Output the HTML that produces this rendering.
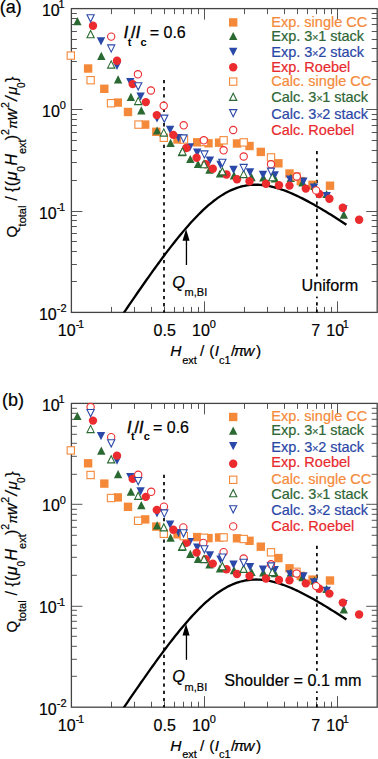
<!DOCTYPE html>
<html><head><meta charset="utf-8"><style>
html,body{margin:0;padding:0;background:#fff;width:378px;height:759px;overflow:hidden}
svg{display:block}
text{font-family:"Liberation Sans",sans-serif;stroke:#000;stroke-width:0.2px}
</style></head><body>
<svg width="378" height="759" viewBox="0 0 378 759">
<defs><clipPath id="clp"><rect x="71.4" y="8.6" width="305.79999999999995" height="303.79999999999995"/></clipPath></defs>
<rect width="378" height="759" fill="#fff"/>
<g><line x1="111.50" y1="312.40" x2="111.50" y2="306.90" stroke="#555" stroke-width="1"/>
<line x1="111.50" y1="8.60" x2="111.50" y2="14.10" stroke="#555" stroke-width="1"/>
<line x1="134.50" y1="312.40" x2="134.50" y2="306.90" stroke="#555" stroke-width="1"/>
<line x1="134.50" y1="8.60" x2="134.50" y2="14.10" stroke="#555" stroke-width="1"/>
<line x1="151.50" y1="312.40" x2="151.50" y2="306.90" stroke="#555" stroke-width="1"/>
<line x1="151.50" y1="8.60" x2="151.50" y2="14.10" stroke="#555" stroke-width="1"/>
<line x1="164.50" y1="312.40" x2="164.50" y2="306.90" stroke="#555" stroke-width="1"/>
<line x1="164.50" y1="8.60" x2="164.50" y2="14.10" stroke="#555" stroke-width="1"/>
<line x1="174.50" y1="312.40" x2="174.50" y2="306.90" stroke="#555" stroke-width="1"/>
<line x1="174.50" y1="8.60" x2="174.50" y2="14.10" stroke="#555" stroke-width="1"/>
<line x1="183.50" y1="312.40" x2="183.50" y2="306.90" stroke="#555" stroke-width="1"/>
<line x1="183.50" y1="8.60" x2="183.50" y2="14.10" stroke="#555" stroke-width="1"/>
<line x1="191.50" y1="312.40" x2="191.50" y2="306.90" stroke="#555" stroke-width="1"/>
<line x1="191.50" y1="8.60" x2="191.50" y2="14.10" stroke="#555" stroke-width="1"/>
<line x1="198.50" y1="312.40" x2="198.50" y2="306.90" stroke="#555" stroke-width="1"/>
<line x1="198.50" y1="8.60" x2="198.50" y2="14.10" stroke="#555" stroke-width="1"/>
<line x1="204.50" y1="312.40" x2="204.50" y2="301.40" stroke="#555" stroke-width="1"/>
<line x1="204.50" y1="8.60" x2="204.50" y2="19.60" stroke="#555" stroke-width="1"/>
<line x1="244.50" y1="312.40" x2="244.50" y2="306.90" stroke="#555" stroke-width="1"/>
<line x1="244.50" y1="8.60" x2="244.50" y2="14.10" stroke="#555" stroke-width="1"/>
<line x1="267.50" y1="312.40" x2="267.50" y2="306.90" stroke="#555" stroke-width="1"/>
<line x1="267.50" y1="8.60" x2="267.50" y2="14.10" stroke="#555" stroke-width="1"/>
<line x1="284.50" y1="312.40" x2="284.50" y2="306.90" stroke="#555" stroke-width="1"/>
<line x1="284.50" y1="8.60" x2="284.50" y2="14.10" stroke="#555" stroke-width="1"/>
<line x1="297.50" y1="312.40" x2="297.50" y2="306.90" stroke="#555" stroke-width="1"/>
<line x1="297.50" y1="8.60" x2="297.50" y2="14.10" stroke="#555" stroke-width="1"/>
<line x1="307.50" y1="312.40" x2="307.50" y2="306.90" stroke="#555" stroke-width="1"/>
<line x1="307.50" y1="8.60" x2="307.50" y2="14.10" stroke="#555" stroke-width="1"/>
<line x1="316.50" y1="312.40" x2="316.50" y2="306.90" stroke="#555" stroke-width="1"/>
<line x1="316.50" y1="8.60" x2="316.50" y2="14.10" stroke="#555" stroke-width="1"/>
<line x1="324.50" y1="312.40" x2="324.50" y2="306.90" stroke="#555" stroke-width="1"/>
<line x1="324.50" y1="8.60" x2="324.50" y2="14.10" stroke="#555" stroke-width="1"/>
<line x1="331.50" y1="312.40" x2="331.50" y2="306.90" stroke="#555" stroke-width="1"/>
<line x1="331.50" y1="8.60" x2="331.50" y2="14.10" stroke="#555" stroke-width="1"/>
<line x1="337.50" y1="312.40" x2="337.50" y2="301.40" stroke="#555" stroke-width="1"/>
<line x1="337.50" y1="8.60" x2="337.50" y2="19.60" stroke="#555" stroke-width="1"/>
<line x1="71.40" y1="281.50" x2="76.90" y2="281.50" stroke="#555" stroke-width="1"/>
<line x1="377.20" y1="281.50" x2="371.70" y2="281.50" stroke="#555" stroke-width="1"/>
<line x1="71.40" y1="264.50" x2="76.90" y2="264.50" stroke="#555" stroke-width="1"/>
<line x1="377.20" y1="264.50" x2="371.70" y2="264.50" stroke="#555" stroke-width="1"/>
<line x1="71.40" y1="251.50" x2="76.90" y2="251.50" stroke="#555" stroke-width="1"/>
<line x1="377.20" y1="251.50" x2="371.70" y2="251.50" stroke="#555" stroke-width="1"/>
<line x1="71.40" y1="241.50" x2="76.90" y2="241.50" stroke="#555" stroke-width="1"/>
<line x1="377.20" y1="241.50" x2="371.70" y2="241.50" stroke="#555" stroke-width="1"/>
<line x1="71.40" y1="233.50" x2="76.90" y2="233.50" stroke="#555" stroke-width="1"/>
<line x1="377.20" y1="233.50" x2="371.70" y2="233.50" stroke="#555" stroke-width="1"/>
<line x1="71.40" y1="226.50" x2="76.90" y2="226.50" stroke="#555" stroke-width="1"/>
<line x1="377.20" y1="226.50" x2="371.70" y2="226.50" stroke="#555" stroke-width="1"/>
<line x1="71.40" y1="220.50" x2="76.90" y2="220.50" stroke="#555" stroke-width="1"/>
<line x1="377.20" y1="220.50" x2="371.70" y2="220.50" stroke="#555" stroke-width="1"/>
<line x1="71.40" y1="215.50" x2="76.90" y2="215.50" stroke="#555" stroke-width="1"/>
<line x1="377.20" y1="215.50" x2="371.70" y2="215.50" stroke="#555" stroke-width="1"/>
<line x1="71.40" y1="211.50" x2="82.40" y2="211.50" stroke="#555" stroke-width="1"/>
<line x1="377.20" y1="211.50" x2="366.20" y2="211.50" stroke="#555" stroke-width="1"/>
<line x1="71.40" y1="180.50" x2="76.90" y2="180.50" stroke="#555" stroke-width="1"/>
<line x1="377.20" y1="180.50" x2="371.70" y2="180.50" stroke="#555" stroke-width="1"/>
<line x1="71.40" y1="162.50" x2="76.90" y2="162.50" stroke="#555" stroke-width="1"/>
<line x1="377.20" y1="162.50" x2="371.70" y2="162.50" stroke="#555" stroke-width="1"/>
<line x1="71.40" y1="150.50" x2="76.90" y2="150.50" stroke="#555" stroke-width="1"/>
<line x1="377.20" y1="150.50" x2="371.70" y2="150.50" stroke="#555" stroke-width="1"/>
<line x1="71.40" y1="140.50" x2="76.90" y2="140.50" stroke="#555" stroke-width="1"/>
<line x1="377.20" y1="140.50" x2="371.70" y2="140.50" stroke="#555" stroke-width="1"/>
<line x1="71.40" y1="132.50" x2="76.90" y2="132.50" stroke="#555" stroke-width="1"/>
<line x1="377.20" y1="132.50" x2="371.70" y2="132.50" stroke="#555" stroke-width="1"/>
<line x1="71.40" y1="125.50" x2="76.90" y2="125.50" stroke="#555" stroke-width="1"/>
<line x1="377.20" y1="125.50" x2="371.70" y2="125.50" stroke="#555" stroke-width="1"/>
<line x1="71.40" y1="119.50" x2="76.90" y2="119.50" stroke="#555" stroke-width="1"/>
<line x1="377.20" y1="119.50" x2="371.70" y2="119.50" stroke="#555" stroke-width="1"/>
<line x1="71.40" y1="114.50" x2="76.90" y2="114.50" stroke="#555" stroke-width="1"/>
<line x1="377.20" y1="114.50" x2="371.70" y2="114.50" stroke="#555" stroke-width="1"/>
<line x1="71.40" y1="109.50" x2="82.40" y2="109.50" stroke="#555" stroke-width="1"/>
<line x1="377.20" y1="109.50" x2="366.20" y2="109.50" stroke="#555" stroke-width="1"/>
<line x1="71.40" y1="79.50" x2="76.90" y2="79.50" stroke="#555" stroke-width="1"/>
<line x1="377.20" y1="79.50" x2="371.70" y2="79.50" stroke="#555" stroke-width="1"/>
<line x1="71.40" y1="61.50" x2="76.90" y2="61.50" stroke="#555" stroke-width="1"/>
<line x1="377.20" y1="61.50" x2="371.70" y2="61.50" stroke="#555" stroke-width="1"/>
<line x1="71.40" y1="48.50" x2="76.90" y2="48.50" stroke="#555" stroke-width="1"/>
<line x1="377.20" y1="48.50" x2="371.70" y2="48.50" stroke="#555" stroke-width="1"/>
<line x1="71.40" y1="39.50" x2="76.90" y2="39.50" stroke="#555" stroke-width="1"/>
<line x1="377.20" y1="39.50" x2="371.70" y2="39.50" stroke="#555" stroke-width="1"/>
<line x1="71.40" y1="31.50" x2="76.90" y2="31.50" stroke="#555" stroke-width="1"/>
<line x1="377.20" y1="31.50" x2="371.70" y2="31.50" stroke="#555" stroke-width="1"/>
<line x1="71.40" y1="24.50" x2="76.90" y2="24.50" stroke="#555" stroke-width="1"/>
<line x1="377.20" y1="24.50" x2="371.70" y2="24.50" stroke="#555" stroke-width="1"/>
<line x1="71.40" y1="18.50" x2="76.90" y2="18.50" stroke="#555" stroke-width="1"/>
<line x1="377.20" y1="18.50" x2="371.70" y2="18.50" stroke="#555" stroke-width="1"/>
<line x1="71.40" y1="13.50" x2="76.90" y2="13.50" stroke="#555" stroke-width="1"/>
<line x1="377.20" y1="13.50" x2="371.70" y2="13.50" stroke="#555" stroke-width="1"/>
<rect x="71.40" y="8.60" width="305.80" height="303.80" fill="none" stroke="#444" stroke-width="1.3"/>
<line x1="164.0" y1="79.9" x2="164.0" y2="312.4" stroke="#000" stroke-width="1.7" stroke-dasharray="3.3 3.9"/>
<line x1="316.9" y1="151.0" x2="316.9" y2="312.4" stroke="#000" stroke-width="1.7" stroke-dasharray="3.3 3.9"/>
<path d="M118.00 321.39 L119.92 318.54 L121.84 315.71 L123.76 312.88 L125.68 310.05 L127.60 307.24 L129.52 304.42 L131.44 301.62 L133.35 298.83 L135.27 296.04 L137.19 293.26 L139.11 290.49 L141.03 287.73 L142.95 284.99 L144.87 282.25 L146.79 279.53 L148.71 276.82 L150.63 274.12 L152.55 271.44 L154.47 268.77 L156.39 266.12 L158.31 263.49 L160.23 260.87 L162.14 258.28 L164.06 255.70 L165.98 253.15 L167.90 250.62 L169.82 248.12 L171.74 245.64 L173.66 243.18 L175.58 240.76 L177.50 238.37 L179.42 236.00 L181.34 233.67 L183.26 231.38 L185.18 229.12 L187.10 226.90 L189.02 224.72 L190.93 222.58 L192.85 220.48 L194.77 218.43 L196.69 216.42 L198.61 214.47 L200.53 212.56 L202.45 210.70 L204.37 208.90 L206.29 207.16 L208.21 205.47 L210.13 203.84 L212.05 202.27 L213.97 200.76 L215.89 199.32 L217.81 197.94 L219.72 196.63 L221.64 195.38 L223.56 194.20 L225.48 193.09 L227.40 192.04 L229.32 191.07 L231.24 190.17 L233.16 189.33 L235.08 188.57 L237.00 187.88 L238.92 187.26 L240.84 186.71 L242.76 186.22 L244.68 185.81 L246.59 185.46 L248.51 185.19 L250.43 184.97 L252.35 184.82 L254.27 184.74 L256.19 184.72 L258.11 184.76 L260.03 184.85 L261.95 185.01 L263.87 185.22 L265.79 185.48 L267.71 185.80 L269.63 186.17 L271.55 186.58 L273.47 187.05 L275.38 187.55 L277.30 188.10 L279.22 188.69 L281.14 189.33 L283.06 189.99 L284.98 190.70 L286.90 191.44 L288.82 192.21 L290.74 193.01 L292.66 193.84 L294.58 194.70 L296.50 195.59 L298.42 196.50 L300.34 197.44 L302.26 198.39 L304.17 199.37 L306.09 200.37 L308.01 201.39 L309.93 202.43 L311.85 203.49 L313.77 204.56 L315.69 205.65 L317.61 206.75 L319.53 207.87 L321.45 209.00 L323.37 210.15 L325.29 211.31 L327.21 212.47 L329.13 213.66 L331.05 214.85 L332.96 216.05 L334.88 217.26 L336.80 218.48 L338.72 219.71 L340.64 220.95 L342.56 222.20 L344.48 223.45 L346.40 224.72" fill="none" stroke="#000" stroke-width="2.3" clip-path="url(#clp)"/>
<rect x="83.90" y="64.30" width="8.40" height="8.40" fill="#f5893a"/>
<rect x="100.10" y="84.60" width="8.40" height="8.40" fill="#f5893a"/>
<rect x="113.60" y="98.40" width="8.40" height="8.40" fill="#f5893a"/>
<rect x="123.80" y="107.80" width="8.40" height="8.40" fill="#f5893a"/>
<rect x="141.00" y="120.40" width="8.40" height="8.40" fill="#f5893a"/>
<rect x="152.10" y="127.60" width="8.40" height="8.40" fill="#f5893a"/>
<rect x="173.30" y="135.30" width="8.40" height="8.40" fill="#f5893a"/>
<rect x="193.00" y="138.10" width="8.40" height="8.40" fill="#f5893a"/>
<rect x="204.30" y="139.10" width="8.40" height="8.40" fill="#f5893a"/>
<rect x="214.90" y="138.50" width="8.40" height="8.40" fill="#f5893a"/>
<rect x="232.80" y="139.30" width="8.40" height="8.40" fill="#f5893a"/>
<rect x="245.30" y="141.80" width="8.40" height="8.40" fill="#f5893a"/>
<rect x="256.60" y="147.70" width="8.40" height="8.40" fill="#f5893a"/>
<rect x="274.20" y="159.10" width="8.40" height="8.40" fill="#f5893a"/>
<rect x="285.30" y="169.30" width="8.40" height="8.40" fill="#f5893a"/>
<rect x="296.60" y="176.90" width="8.40" height="8.40" fill="#f5893a"/>
<rect x="308.30" y="180.60" width="8.40" height="8.40" fill="#f5893a"/>
<rect x="325.80" y="181.50" width="8.40" height="8.40" fill="#f5893a"/>
<path d="M77.40 17.08L81.60 25.32L73.20 25.32Z" fill="#2a6a32"/>
<path d="M101.30 51.68L105.50 59.92L97.10 59.92Z" fill="#2a6a32"/>
<path d="M118.10 75.28L122.30 83.52L113.90 83.52Z" fill="#2a6a32"/>
<path d="M130.90 92.68L135.10 100.92L126.70 100.92Z" fill="#2a6a32"/>
<path d="M141.30 106.28L145.50 114.52L137.10 114.52Z" fill="#2a6a32"/>
<path d="M157.10 126.38L161.30 134.62L152.90 134.62Z" fill="#2a6a32"/>
<path d="M170.60 138.78L174.80 147.02L166.40 147.02Z" fill="#2a6a32"/>
<path d="M181.80 148.08L186.00 156.32L177.60 156.32Z" fill="#2a6a32"/>
<path d="M190.30 154.88L194.50 163.12L186.10 163.12Z" fill="#2a6a32"/>
<path d="M198.00 159.88L202.20 168.12L193.80 168.12Z" fill="#2a6a32"/>
<path d="M209.50 165.48L213.70 173.72L205.30 173.72Z" fill="#2a6a32"/>
<path d="M220.00 169.38L224.20 177.62L215.80 177.62Z" fill="#2a6a32"/>
<path d="M234.00 171.28L238.20 179.52L229.80 179.52Z" fill="#2a6a32"/>
<path d="M251.50 173.08L255.70 181.32L247.30 181.32Z" fill="#2a6a32"/>
<path d="M263.30 173.38L267.50 181.62L259.10 181.62Z" fill="#2a6a32"/>
<path d="M274.90 174.18L279.10 182.42L270.70 182.42Z" fill="#2a6a32"/>
<path d="M290.80 173.68L295.00 181.92L286.60 181.92Z" fill="#2a6a32"/>
<path d="M302.50 178.18L306.70 186.42L298.30 186.42Z" fill="#2a6a32"/>
<path d="M314.50 181.68L318.70 189.92L310.30 189.92Z" fill="#2a6a32"/>
<path d="M326.60 189.88L330.80 198.12L322.40 198.12Z" fill="#2a6a32"/>
<path d="M343.80 210.48L348.00 218.72L339.60 218.72Z" fill="#2a6a32"/>
<path d="M101.00 45.42L105.20 37.18L96.80 37.18Z" fill="#2a48a8"/>
<path d="M117.00 70.02L121.20 61.78L112.80 61.78Z" fill="#2a48a8"/>
<path d="M130.30 86.32L134.50 78.08L126.10 78.08Z" fill="#2a48a8"/>
<path d="M140.60 100.62L144.80 92.38L136.40 92.38Z" fill="#2a48a8"/>
<path d="M157.00 122.62L161.20 114.38L152.80 114.38Z" fill="#2a48a8"/>
<path d="M170.10 133.92L174.30 125.68L165.90 125.68Z" fill="#2a48a8"/>
<path d="M178.60 142.32L182.80 134.08L174.40 134.08Z" fill="#2a48a8"/>
<path d="M189.80 151.52L194.00 143.28L185.60 143.28Z" fill="#2a48a8"/>
<path d="M197.20 156.82L201.40 148.58L193.00 148.58Z" fill="#2a48a8"/>
<path d="M209.90 164.62L214.10 156.38L205.70 156.38Z" fill="#2a48a8"/>
<path d="M220.50 168.92L224.70 160.68L216.30 160.68Z" fill="#2a48a8"/>
<path d="M233.50 173.92L237.70 165.68L229.30 165.68Z" fill="#2a48a8"/>
<path d="M250.00 176.42L254.20 168.18L245.80 168.18Z" fill="#2a48a8"/>
<path d="M263.00 178.92L267.20 170.68L258.80 170.68Z" fill="#2a48a8"/>
<path d="M274.70 179.52L278.90 171.28L270.50 171.28Z" fill="#2a48a8"/>
<path d="M290.10 183.72L294.30 175.48L285.90 175.48Z" fill="#2a48a8"/>
<path d="M303.40 185.72L307.60 177.48L299.20 177.48Z" fill="#2a48a8"/>
<path d="M314.00 191.72L318.20 183.48L309.80 183.48Z" fill="#2a48a8"/>
<path d="M326.70 200.22L330.90 191.98L322.50 191.98Z" fill="#2a48a8"/>
<path d="M343.50 213.42L347.70 205.18L339.30 205.18Z" fill="#2a48a8"/>
<circle cx="93.00" cy="25.80" r="4.20" fill="#ec2b2e"/>
<circle cx="117.00" cy="60.80" r="4.20" fill="#ec2b2e"/>
<circle cx="132.70" cy="84.10" r="4.20" fill="#ec2b2e"/>
<circle cx="145.80" cy="102.10" r="4.20" fill="#ec2b2e"/>
<circle cx="156.80" cy="115.10" r="4.20" fill="#ec2b2e"/>
<circle cx="173.30" cy="134.90" r="4.20" fill="#ec2b2e"/>
<circle cx="186.30" cy="148.00" r="4.20" fill="#ec2b2e"/>
<circle cx="196.60" cy="157.80" r="4.20" fill="#ec2b2e"/>
<circle cx="205.70" cy="164.30" r="4.20" fill="#ec2b2e"/>
<circle cx="212.80" cy="168.80" r="4.20" fill="#ec2b2e"/>
<circle cx="226.50" cy="174.50" r="4.20" fill="#ec2b2e"/>
<circle cx="237.00" cy="179.20" r="4.20" fill="#ec2b2e"/>
<circle cx="249.50" cy="181.20" r="4.20" fill="#ec2b2e"/>
<circle cx="266.00" cy="183.70" r="4.20" fill="#ec2b2e"/>
<circle cx="279.00" cy="185.20" r="4.20" fill="#ec2b2e"/>
<circle cx="289.50" cy="185.60" r="4.20" fill="#ec2b2e"/>
<circle cx="305.80" cy="188.60" r="4.20" fill="#ec2b2e"/>
<circle cx="319.30" cy="194.00" r="4.20" fill="#ec2b2e"/>
<circle cx="329.40" cy="198.80" r="4.20" fill="#ec2b2e"/>
<circle cx="342.80" cy="207.80" r="4.20" fill="#ec2b2e"/>
<circle cx="359.10" cy="219.70" r="4.20" fill="#ec2b2e"/>
<rect x="67.15" y="51.95" width="7.30" height="7.30" fill="#fff" stroke="#f5893a" stroke-width="1.1"/>
<rect x="86.95" y="76.55" width="7.30" height="7.30" fill="#fff" stroke="#f5893a" stroke-width="1.1"/>
<rect x="107.35" y="99.55" width="7.30" height="7.30" fill="#fff" stroke="#f5893a" stroke-width="1.1"/>
<rect x="134.85" y="120.95" width="7.30" height="7.30" fill="#fff" stroke="#f5893a" stroke-width="1.1"/>
<rect x="160.15" y="134.15" width="7.30" height="7.30" fill="#fff" stroke="#f5893a" stroke-width="1.1"/>
<rect x="180.35" y="135.85" width="7.30" height="7.30" fill="#fff" stroke="#f5893a" stroke-width="1.1"/>
<rect x="200.35" y="138.35" width="7.30" height="7.30" fill="#fff" stroke="#f5893a" stroke-width="1.1"/>
<rect x="219.95" y="136.65" width="7.30" height="7.30" fill="#fff" stroke="#f5893a" stroke-width="1.1"/>
<rect x="240.05" y="138.75" width="7.30" height="7.30" fill="#fff" stroke="#f5893a" stroke-width="1.1"/>
<rect x="267.35" y="153.75" width="7.30" height="7.30" fill="#fff" stroke="#f5893a" stroke-width="1.1"/>
<rect x="292.85" y="172.85" width="7.30" height="7.30" fill="#fff" stroke="#f5893a" stroke-width="1.1"/>
<circle cx="111.20" cy="36.60" r="3.65" fill="#fff" stroke="#ec2b2e" stroke-width="1.1"/>
<circle cx="137.90" cy="74.30" r="3.65" fill="#fff" stroke="#ec2b2e" stroke-width="1.1"/>
<circle cx="150.90" cy="90.50" r="3.65" fill="#fff" stroke="#ec2b2e" stroke-width="1.1"/>
<circle cx="163.70" cy="105.80" r="3.65" fill="#fff" stroke="#ec2b2e" stroke-width="1.1"/>
<circle cx="183.70" cy="125.30" r="3.65" fill="#fff" stroke="#ec2b2e" stroke-width="1.1"/>
<circle cx="203.80" cy="140.30" r="3.65" fill="#fff" stroke="#ec2b2e" stroke-width="1.1"/>
<circle cx="223.60" cy="150.30" r="3.65" fill="#fff" stroke="#ec2b2e" stroke-width="1.1"/>
<circle cx="243.70" cy="156.50" r="3.65" fill="#fff" stroke="#ec2b2e" stroke-width="1.1"/>
<circle cx="271.00" cy="164.30" r="3.65" fill="#fff" stroke="#ec2b2e" stroke-width="1.1"/>
<circle cx="296.80" cy="176.50" r="3.65" fill="#fff" stroke="#ec2b2e" stroke-width="1.1"/>
<circle cx="316.10" cy="190.40" r="3.65" fill="#fff" stroke="#ec2b2e" stroke-width="1.1"/>
<path d="M90.60 30.58L94.20 37.82L87.00 37.82Z" fill="#fff" stroke="#2a6a32" stroke-width="1.1" stroke-linejoin="miter"/>
<path d="M111.20 60.88L114.80 68.12L107.60 68.12Z" fill="#fff" stroke="#2a6a32" stroke-width="1.1" stroke-linejoin="miter"/>
<path d="M138.20 97.38L141.80 104.62L134.60 104.62Z" fill="#fff" stroke="#2a6a32" stroke-width="1.1" stroke-linejoin="miter"/>
<path d="M163.80 128.88L167.40 136.12L160.20 136.12Z" fill="#fff" stroke="#2a6a32" stroke-width="1.1" stroke-linejoin="miter"/>
<path d="M182.50 147.88L186.10 155.12L178.90 155.12Z" fill="#fff" stroke="#2a6a32" stroke-width="1.1" stroke-linejoin="miter"/>
<path d="M204.00 160.58L207.60 167.82L200.40 167.82Z" fill="#fff" stroke="#2a6a32" stroke-width="1.1" stroke-linejoin="miter"/>
<path d="M222.40 167.68L226.00 174.92L218.80 174.92Z" fill="#fff" stroke="#2a6a32" stroke-width="1.1" stroke-linejoin="miter"/>
<path d="M243.60 170.38L247.20 177.62L240.00 177.62Z" fill="#fff" stroke="#2a6a32" stroke-width="1.1" stroke-linejoin="miter"/>
<path d="M272.30 173.58L275.90 180.82L268.70 180.82Z" fill="#fff" stroke="#2a6a32" stroke-width="1.1" stroke-linejoin="miter"/>
<path d="M90.60 21.92L94.20 14.68L87.00 14.68Z" fill="#fff" stroke="#2a48a8" stroke-width="1.1"/>
<path d="M111.20 52.12L114.80 44.88L107.60 44.88Z" fill="#fff" stroke="#2a48a8" stroke-width="1.1"/>
<path d="M138.20 89.92L141.80 82.68L134.60 82.68Z" fill="#fff" stroke="#2a48a8" stroke-width="1.1"/>
<path d="M164.30 122.32L167.90 115.08L160.70 115.08Z" fill="#fff" stroke="#2a48a8" stroke-width="1.1"/>
<path d="M183.50 142.12L187.10 134.88L179.90 134.88Z" fill="#fff" stroke="#2a48a8" stroke-width="1.1"/>
<path d="M204.40 158.12L208.00 150.88L200.80 150.88Z" fill="#fff" stroke="#2a48a8" stroke-width="1.1"/>
<path d="M222.40 166.42L226.00 159.18L218.80 159.18Z" fill="#fff" stroke="#2a48a8" stroke-width="1.1"/>
<path d="M243.70 171.62L247.30 164.38L240.10 164.38Z" fill="#fff" stroke="#2a48a8" stroke-width="1.1"/>
<path d="M271.00 175.32L274.60 168.08L267.40 168.08Z" fill="#fff" stroke="#2a48a8" stroke-width="1.1"/>
<text x="-0.3" y="13.1" font-size="18" font-family="Liberation Sans, sans-serif">(a)</text>
<text x="41.9" y="15.9" font-size="16" font-family="Liberation Sans, sans-serif">10<tspan font-size="11" dy="-7.6" dx="-1.2">1</tspan></text>
<text x="42.0" y="116.6" font-size="16" font-family="Liberation Sans, sans-serif">10<tspan font-size="11" dy="-7.6">0</tspan></text>
<text x="38.95" y="218.5" font-size="16" font-family="Liberation Sans, sans-serif">10<tspan font-size="11" dy="-7.6">-</tspan><tspan font-size="11" dx="-1.3">1</tspan></text>
<text x="38.95" y="319.9" font-size="16" font-family="Liberation Sans, sans-serif">10<tspan font-size="11" dy="-7.6">-2</tspan></text>
<text x="57.85" y="336" font-size="16" font-family="Liberation Sans, sans-serif">10<tspan font-size="11" dy="-7.6">-</tspan><tspan font-size="11" dx="-1.3">1</tspan></text>
<text x="153.6" y="336" font-size="16" font-family="Liberation Sans, sans-serif">0.5</text>
<text x="192" y="336" font-size="16" font-family="Liberation Sans, sans-serif">10<tspan font-size="11" dy="-7.6">0</tspan></text>
<text x="311.3" y="336" font-size="16" font-family="Liberation Sans, sans-serif">7</text>
<text x="326.25" y="336" font-size="16" font-family="Liberation Sans, sans-serif">10<tspan font-size="11" dy="-7.6" dx="-1.2">1</tspan></text>
<g font-size="15.5" font-family="Liberation Sans, sans-serif"><text x="170.3" y="356.2" font-style="italic">H</text><text x="182.2" y="363.6" font-size="11">ext</text><text x="200" y="356.2">/</text><text x="209.3" y="356.2">(</text><text x="214.8" y="356.2" font-style="italic">I</text><text x="219.0" y="363.6" font-size="11">c1</text><text x="231" y="356.2">/</text><text x="233.8" y="356.2" font-style="italic">π</text><text x="243.3" y="356.2" font-style="italic">w</text><text x="256.1" y="356.2">)</text></g>
<g transform="translate(17.0 0) rotate(-90)" font-family="Liberation Sans, sans-serif"><text x="-237.6" y="0" font-size="15">Q</text><text x="-226.4" y="8.6" font-size="11">total</text><text x="-200.7" y="0" font-size="16">/</text><text x="-191.9" y="0" font-size="16">{</text><text x="-186.2" y="0" font-size="16">(</text><text x="-180.5" y="0" font-size="16.5" font-style="italic">μ</text><text x="-171.7" y="8.4" font-size="10">0</text><text x="-165.6" y="0" font-size="16" font-style="italic">H</text><text x="-154.1" y="8.8" font-size="11">ext</text><text x="-140.2" y="0" font-size="16">)</text><text x="-135.0" y="-7.9" font-size="10.5">2</text><text x="-128.8" y="0" font-size="13" font-style="italic">π</text><text x="-120.2" y="0" font-size="16" font-style="italic">w</text><text x="-108.0" y="-7.9" font-size="10.5">2</text><text x="-100.7" y="0" font-size="16" font-style="italic">/</text><text x="-94.8" y="0" font-size="15" font-style="italic">μ</text><text x="-88.1" y="8.4" font-size="10">0</text><text x="-82.0" y="0" font-size="16">}</text></g>
<rect x="229.00" y="18.20" width="8.40" height="8.40" fill="#f5893a"/>
<text x="271.3" y="26.7" font-size="14.5" fill="#f58a3a" style="stroke:#f58a3a" font-family="Liberation Sans, sans-serif">Exp. single CC</text>
<path d="M233.20 31.88L237.40 40.12L229.00 40.12Z" fill="#2a6a32"/>
<text x="271.3" y="40.6" font-size="14.5" fill="#2e6635" style="stroke:#2e6635" font-family="Liberation Sans, sans-serif">Exp. 3<tspan font-size="11" dx="-0.3">×</tspan><tspan dx="-0.4">1 stack</tspan></text>
<path d="M233.20 55.92L237.40 47.68L229.00 47.68Z" fill="#2a48a8"/>
<text x="271.3" y="56.8" font-size="14.5" fill="#2b47a6" style="stroke:#2b47a6" font-family="Liberation Sans, sans-serif">Exp. 3<tspan font-size="11" dx="-0.3">×</tspan><tspan dx="-0.4">2 stack</tspan></text>
<circle cx="233.20" cy="67.20" r="4.20" fill="#ec2b2e"/>
<text x="271.3" y="71.5" font-size="14.5" fill="#e8292d" style="stroke:#e8292d" font-family="Liberation Sans, sans-serif">Exp. Roebel</text>
<rect x="229.55" y="77.95" width="7.30" height="7.30" fill="#fff" stroke="#f5893a" stroke-width="1.1"/>
<text x="271.3" y="86.2" font-size="14.5" fill="#f58a3a" style="stroke:#f58a3a" font-family="Liberation Sans, sans-serif">Calc. single CC</text>
<path d="M233.20 93.18L236.80 100.42L229.60 100.42Z" fill="#fff" stroke="#2a6a32" stroke-width="1.1" stroke-linejoin="miter"/>
<text x="271.3" y="102.3" font-size="14.5" fill="#2e6635" style="stroke:#2e6635" font-family="Liberation Sans, sans-serif">Calc. 3<tspan font-size="11" dx="-0.3">×</tspan><tspan dx="-0.4">1 stack</tspan></text>
<path d="M233.20 116.82L236.80 109.58L229.60 109.58Z" fill="#fff" stroke="#2a48a8" stroke-width="1.1"/>
<text x="271.3" y="118.5" font-size="14.5" fill="#2b47a6" style="stroke:#2b47a6" font-family="Liberation Sans, sans-serif">Calc. 3<tspan font-size="11" dx="-0.3">×</tspan><tspan dx="-0.4">2 stack</tspan></text>
<circle cx="233.20" cy="130.00" r="3.65" fill="#fff" stroke="#ec2b2e" stroke-width="1.1"/>
<text x="271.3" y="134.8" font-size="14.5" fill="#e8292d" style="stroke:#e8292d" font-family="Liberation Sans, sans-serif">Calc. Roebel</text>
<g transform="translate(0 0)" font-size="16" font-family="Liberation Sans, sans-serif"><text x="123.76" y="37.8" font-style="italic" style="stroke-width:0.45px">I</text><text x="127.8" y="45.7" font-size="11" font-weight="bold" style="stroke:none">t</text><text x="131.1" y="37.8" style="stroke-width:0.45px">/</text><text x="135.66" y="37.8" font-style="italic" style="stroke-width:0.45px">I</text><text x="140.57" y="45.7" font-size="11" font-weight="bold" style="stroke:none">c</text><text x="149.7" y="37.8">= 0.6</text></g><rect x="300" y="276.8" width="60" height="19.8" fill="#fff"/><text x="301.5" y="290.9" font-size="16.2" font-family="Liberation Sans, sans-serif">Uniform</text>
<rect x="185.8" y="238" width="1.3" height="27" fill="#000"/>
<path d="M186.05 228.9 L189.6 240.8 L182.5 240.8 Z" fill="#000"/>
<text x="172.3" y="287.6" font-size="16.4" font-style="italic" font-family="Liberation Sans, sans-serif">Q</text>
<text x="184.6" y="296.2" font-size="11" font-family="Liberation Sans, sans-serif">m,BI</text></g>
<g transform="translate(0 394.8)"><line x1="111.50" y1="312.40" x2="111.50" y2="306.90" stroke="#555" stroke-width="1"/>
<line x1="111.50" y1="8.60" x2="111.50" y2="14.10" stroke="#555" stroke-width="1"/>
<line x1="134.50" y1="312.40" x2="134.50" y2="306.90" stroke="#555" stroke-width="1"/>
<line x1="134.50" y1="8.60" x2="134.50" y2="14.10" stroke="#555" stroke-width="1"/>
<line x1="151.50" y1="312.40" x2="151.50" y2="306.90" stroke="#555" stroke-width="1"/>
<line x1="151.50" y1="8.60" x2="151.50" y2="14.10" stroke="#555" stroke-width="1"/>
<line x1="164.50" y1="312.40" x2="164.50" y2="306.90" stroke="#555" stroke-width="1"/>
<line x1="164.50" y1="8.60" x2="164.50" y2="14.10" stroke="#555" stroke-width="1"/>
<line x1="174.50" y1="312.40" x2="174.50" y2="306.90" stroke="#555" stroke-width="1"/>
<line x1="174.50" y1="8.60" x2="174.50" y2="14.10" stroke="#555" stroke-width="1"/>
<line x1="183.50" y1="312.40" x2="183.50" y2="306.90" stroke="#555" stroke-width="1"/>
<line x1="183.50" y1="8.60" x2="183.50" y2="14.10" stroke="#555" stroke-width="1"/>
<line x1="191.50" y1="312.40" x2="191.50" y2="306.90" stroke="#555" stroke-width="1"/>
<line x1="191.50" y1="8.60" x2="191.50" y2="14.10" stroke="#555" stroke-width="1"/>
<line x1="198.50" y1="312.40" x2="198.50" y2="306.90" stroke="#555" stroke-width="1"/>
<line x1="198.50" y1="8.60" x2="198.50" y2="14.10" stroke="#555" stroke-width="1"/>
<line x1="204.50" y1="312.40" x2="204.50" y2="301.40" stroke="#555" stroke-width="1"/>
<line x1="204.50" y1="8.60" x2="204.50" y2="19.60" stroke="#555" stroke-width="1"/>
<line x1="244.50" y1="312.40" x2="244.50" y2="306.90" stroke="#555" stroke-width="1"/>
<line x1="244.50" y1="8.60" x2="244.50" y2="14.10" stroke="#555" stroke-width="1"/>
<line x1="267.50" y1="312.40" x2="267.50" y2="306.90" stroke="#555" stroke-width="1"/>
<line x1="267.50" y1="8.60" x2="267.50" y2="14.10" stroke="#555" stroke-width="1"/>
<line x1="284.50" y1="312.40" x2="284.50" y2="306.90" stroke="#555" stroke-width="1"/>
<line x1="284.50" y1="8.60" x2="284.50" y2="14.10" stroke="#555" stroke-width="1"/>
<line x1="297.50" y1="312.40" x2="297.50" y2="306.90" stroke="#555" stroke-width="1"/>
<line x1="297.50" y1="8.60" x2="297.50" y2="14.10" stroke="#555" stroke-width="1"/>
<line x1="307.50" y1="312.40" x2="307.50" y2="306.90" stroke="#555" stroke-width="1"/>
<line x1="307.50" y1="8.60" x2="307.50" y2="14.10" stroke="#555" stroke-width="1"/>
<line x1="316.50" y1="312.40" x2="316.50" y2="306.90" stroke="#555" stroke-width="1"/>
<line x1="316.50" y1="8.60" x2="316.50" y2="14.10" stroke="#555" stroke-width="1"/>
<line x1="324.50" y1="312.40" x2="324.50" y2="306.90" stroke="#555" stroke-width="1"/>
<line x1="324.50" y1="8.60" x2="324.50" y2="14.10" stroke="#555" stroke-width="1"/>
<line x1="331.50" y1="312.40" x2="331.50" y2="306.90" stroke="#555" stroke-width="1"/>
<line x1="331.50" y1="8.60" x2="331.50" y2="14.10" stroke="#555" stroke-width="1"/>
<line x1="337.50" y1="312.40" x2="337.50" y2="301.40" stroke="#555" stroke-width="1"/>
<line x1="337.50" y1="8.60" x2="337.50" y2="19.60" stroke="#555" stroke-width="1"/>
<line x1="71.40" y1="281.50" x2="76.90" y2="281.50" stroke="#555" stroke-width="1"/>
<line x1="377.20" y1="281.50" x2="371.70" y2="281.50" stroke="#555" stroke-width="1"/>
<line x1="71.40" y1="264.50" x2="76.90" y2="264.50" stroke="#555" stroke-width="1"/>
<line x1="377.20" y1="264.50" x2="371.70" y2="264.50" stroke="#555" stroke-width="1"/>
<line x1="71.40" y1="251.50" x2="76.90" y2="251.50" stroke="#555" stroke-width="1"/>
<line x1="377.20" y1="251.50" x2="371.70" y2="251.50" stroke="#555" stroke-width="1"/>
<line x1="71.40" y1="241.50" x2="76.90" y2="241.50" stroke="#555" stroke-width="1"/>
<line x1="377.20" y1="241.50" x2="371.70" y2="241.50" stroke="#555" stroke-width="1"/>
<line x1="71.40" y1="233.50" x2="76.90" y2="233.50" stroke="#555" stroke-width="1"/>
<line x1="377.20" y1="233.50" x2="371.70" y2="233.50" stroke="#555" stroke-width="1"/>
<line x1="71.40" y1="226.50" x2="76.90" y2="226.50" stroke="#555" stroke-width="1"/>
<line x1="377.20" y1="226.50" x2="371.70" y2="226.50" stroke="#555" stroke-width="1"/>
<line x1="71.40" y1="220.50" x2="76.90" y2="220.50" stroke="#555" stroke-width="1"/>
<line x1="377.20" y1="220.50" x2="371.70" y2="220.50" stroke="#555" stroke-width="1"/>
<line x1="71.40" y1="215.50" x2="76.90" y2="215.50" stroke="#555" stroke-width="1"/>
<line x1="377.20" y1="215.50" x2="371.70" y2="215.50" stroke="#555" stroke-width="1"/>
<line x1="71.40" y1="211.50" x2="82.40" y2="211.50" stroke="#555" stroke-width="1"/>
<line x1="377.20" y1="211.50" x2="366.20" y2="211.50" stroke="#555" stroke-width="1"/>
<line x1="71.40" y1="180.50" x2="76.90" y2="180.50" stroke="#555" stroke-width="1"/>
<line x1="377.20" y1="180.50" x2="371.70" y2="180.50" stroke="#555" stroke-width="1"/>
<line x1="71.40" y1="162.50" x2="76.90" y2="162.50" stroke="#555" stroke-width="1"/>
<line x1="377.20" y1="162.50" x2="371.70" y2="162.50" stroke="#555" stroke-width="1"/>
<line x1="71.40" y1="150.50" x2="76.90" y2="150.50" stroke="#555" stroke-width="1"/>
<line x1="377.20" y1="150.50" x2="371.70" y2="150.50" stroke="#555" stroke-width="1"/>
<line x1="71.40" y1="140.50" x2="76.90" y2="140.50" stroke="#555" stroke-width="1"/>
<line x1="377.20" y1="140.50" x2="371.70" y2="140.50" stroke="#555" stroke-width="1"/>
<line x1="71.40" y1="132.50" x2="76.90" y2="132.50" stroke="#555" stroke-width="1"/>
<line x1="377.20" y1="132.50" x2="371.70" y2="132.50" stroke="#555" stroke-width="1"/>
<line x1="71.40" y1="125.50" x2="76.90" y2="125.50" stroke="#555" stroke-width="1"/>
<line x1="377.20" y1="125.50" x2="371.70" y2="125.50" stroke="#555" stroke-width="1"/>
<line x1="71.40" y1="119.50" x2="76.90" y2="119.50" stroke="#555" stroke-width="1"/>
<line x1="377.20" y1="119.50" x2="371.70" y2="119.50" stroke="#555" stroke-width="1"/>
<line x1="71.40" y1="114.50" x2="76.90" y2="114.50" stroke="#555" stroke-width="1"/>
<line x1="377.20" y1="114.50" x2="371.70" y2="114.50" stroke="#555" stroke-width="1"/>
<line x1="71.40" y1="109.50" x2="82.40" y2="109.50" stroke="#555" stroke-width="1"/>
<line x1="377.20" y1="109.50" x2="366.20" y2="109.50" stroke="#555" stroke-width="1"/>
<line x1="71.40" y1="79.50" x2="76.90" y2="79.50" stroke="#555" stroke-width="1"/>
<line x1="377.20" y1="79.50" x2="371.70" y2="79.50" stroke="#555" stroke-width="1"/>
<line x1="71.40" y1="61.50" x2="76.90" y2="61.50" stroke="#555" stroke-width="1"/>
<line x1="377.20" y1="61.50" x2="371.70" y2="61.50" stroke="#555" stroke-width="1"/>
<line x1="71.40" y1="48.50" x2="76.90" y2="48.50" stroke="#555" stroke-width="1"/>
<line x1="377.20" y1="48.50" x2="371.70" y2="48.50" stroke="#555" stroke-width="1"/>
<line x1="71.40" y1="39.50" x2="76.90" y2="39.50" stroke="#555" stroke-width="1"/>
<line x1="377.20" y1="39.50" x2="371.70" y2="39.50" stroke="#555" stroke-width="1"/>
<line x1="71.40" y1="31.50" x2="76.90" y2="31.50" stroke="#555" stroke-width="1"/>
<line x1="377.20" y1="31.50" x2="371.70" y2="31.50" stroke="#555" stroke-width="1"/>
<line x1="71.40" y1="24.50" x2="76.90" y2="24.50" stroke="#555" stroke-width="1"/>
<line x1="377.20" y1="24.50" x2="371.70" y2="24.50" stroke="#555" stroke-width="1"/>
<line x1="71.40" y1="18.50" x2="76.90" y2="18.50" stroke="#555" stroke-width="1"/>
<line x1="377.20" y1="18.50" x2="371.70" y2="18.50" stroke="#555" stroke-width="1"/>
<line x1="71.40" y1="13.50" x2="76.90" y2="13.50" stroke="#555" stroke-width="1"/>
<line x1="377.20" y1="13.50" x2="371.70" y2="13.50" stroke="#555" stroke-width="1"/>
<rect x="71.40" y="8.60" width="305.80" height="303.80" fill="none" stroke="#444" stroke-width="1.3"/>
<line x1="164.0" y1="79.9" x2="164.0" y2="312.4" stroke="#000" stroke-width="1.7" stroke-dasharray="3.3 3.9"/>
<line x1="316.9" y1="151.0" x2="316.9" y2="312.4" stroke="#000" stroke-width="1.7" stroke-dasharray="3.3 3.9"/>
<path d="M118.00 321.39 L119.92 318.54 L121.84 315.71 L123.76 312.88 L125.68 310.05 L127.60 307.24 L129.52 304.42 L131.44 301.62 L133.35 298.83 L135.27 296.04 L137.19 293.26 L139.11 290.49 L141.03 287.73 L142.95 284.99 L144.87 282.25 L146.79 279.53 L148.71 276.82 L150.63 274.12 L152.55 271.44 L154.47 268.77 L156.39 266.12 L158.31 263.49 L160.23 260.87 L162.14 258.28 L164.06 255.70 L165.98 253.15 L167.90 250.62 L169.82 248.12 L171.74 245.64 L173.66 243.18 L175.58 240.76 L177.50 238.37 L179.42 236.00 L181.34 233.67 L183.26 231.38 L185.18 229.12 L187.10 226.90 L189.02 224.72 L190.93 222.58 L192.85 220.48 L194.77 218.43 L196.69 216.42 L198.61 214.47 L200.53 212.56 L202.45 210.70 L204.37 208.90 L206.29 207.16 L208.21 205.47 L210.13 203.84 L212.05 202.27 L213.97 200.76 L215.89 199.32 L217.81 197.94 L219.72 196.63 L221.64 195.38 L223.56 194.20 L225.48 193.09 L227.40 192.04 L229.32 191.07 L231.24 190.17 L233.16 189.33 L235.08 188.57 L237.00 187.88 L238.92 187.26 L240.84 186.71 L242.76 186.22 L244.68 185.81 L246.59 185.46 L248.51 185.19 L250.43 184.97 L252.35 184.82 L254.27 184.74 L256.19 184.72 L258.11 184.76 L260.03 184.85 L261.95 185.01 L263.87 185.22 L265.79 185.48 L267.71 185.80 L269.63 186.17 L271.55 186.58 L273.47 187.05 L275.38 187.55 L277.30 188.10 L279.22 188.69 L281.14 189.33 L283.06 189.99 L284.98 190.70 L286.90 191.44 L288.82 192.21 L290.74 193.01 L292.66 193.84 L294.58 194.70 L296.50 195.59 L298.42 196.50 L300.34 197.44 L302.26 198.39 L304.17 199.37 L306.09 200.37 L308.01 201.39 L309.93 202.43 L311.85 203.49 L313.77 204.56 L315.69 205.65 L317.61 206.75 L319.53 207.87 L321.45 209.00 L323.37 210.15 L325.29 211.31 L327.21 212.47 L329.13 213.66 L331.05 214.85 L332.96 216.05 L334.88 217.26 L336.80 218.48 L338.72 219.71 L340.64 220.95 L342.56 222.20 L344.48 223.45 L346.40 224.72" fill="none" stroke="#000" stroke-width="2.3" clip-path="url(#clp)"/>
<rect x="83.90" y="64.30" width="8.40" height="8.40" fill="#f5893a"/>
<rect x="100.10" y="84.60" width="8.40" height="8.40" fill="#f5893a"/>
<rect x="113.60" y="98.40" width="8.40" height="8.40" fill="#f5893a"/>
<rect x="123.80" y="107.80" width="8.40" height="8.40" fill="#f5893a"/>
<rect x="141.00" y="120.40" width="8.40" height="8.40" fill="#f5893a"/>
<rect x="152.10" y="127.60" width="8.40" height="8.40" fill="#f5893a"/>
<rect x="173.30" y="135.30" width="8.40" height="8.40" fill="#f5893a"/>
<rect x="193.00" y="138.10" width="8.40" height="8.40" fill="#f5893a"/>
<rect x="204.30" y="139.10" width="8.40" height="8.40" fill="#f5893a"/>
<rect x="214.90" y="138.50" width="8.40" height="8.40" fill="#f5893a"/>
<rect x="232.80" y="139.30" width="8.40" height="8.40" fill="#f5893a"/>
<rect x="245.30" y="141.80" width="8.40" height="8.40" fill="#f5893a"/>
<rect x="256.60" y="147.70" width="8.40" height="8.40" fill="#f5893a"/>
<rect x="274.20" y="159.10" width="8.40" height="8.40" fill="#f5893a"/>
<rect x="285.30" y="169.30" width="8.40" height="8.40" fill="#f5893a"/>
<rect x="296.60" y="176.90" width="8.40" height="8.40" fill="#f5893a"/>
<rect x="308.30" y="180.60" width="8.40" height="8.40" fill="#f5893a"/>
<rect x="325.80" y="181.50" width="8.40" height="8.40" fill="#f5893a"/>
<path d="M77.40 17.08L81.60 25.32L73.20 25.32Z" fill="#2a6a32"/>
<path d="M101.30 51.68L105.50 59.92L97.10 59.92Z" fill="#2a6a32"/>
<path d="M118.10 75.28L122.30 83.52L113.90 83.52Z" fill="#2a6a32"/>
<path d="M130.90 92.68L135.10 100.92L126.70 100.92Z" fill="#2a6a32"/>
<path d="M141.30 106.28L145.50 114.52L137.10 114.52Z" fill="#2a6a32"/>
<path d="M157.10 126.38L161.30 134.62L152.90 134.62Z" fill="#2a6a32"/>
<path d="M170.60 138.78L174.80 147.02L166.40 147.02Z" fill="#2a6a32"/>
<path d="M181.80 148.08L186.00 156.32L177.60 156.32Z" fill="#2a6a32"/>
<path d="M190.30 154.88L194.50 163.12L186.10 163.12Z" fill="#2a6a32"/>
<path d="M198.00 159.88L202.20 168.12L193.80 168.12Z" fill="#2a6a32"/>
<path d="M209.50 165.48L213.70 173.72L205.30 173.72Z" fill="#2a6a32"/>
<path d="M220.00 169.38L224.20 177.62L215.80 177.62Z" fill="#2a6a32"/>
<path d="M234.00 171.28L238.20 179.52L229.80 179.52Z" fill="#2a6a32"/>
<path d="M251.50 173.08L255.70 181.32L247.30 181.32Z" fill="#2a6a32"/>
<path d="M263.30 173.38L267.50 181.62L259.10 181.62Z" fill="#2a6a32"/>
<path d="M274.90 174.18L279.10 182.42L270.70 182.42Z" fill="#2a6a32"/>
<path d="M290.80 173.68L295.00 181.92L286.60 181.92Z" fill="#2a6a32"/>
<path d="M302.50 178.18L306.70 186.42L298.30 186.42Z" fill="#2a6a32"/>
<path d="M314.50 181.68L318.70 189.92L310.30 189.92Z" fill="#2a6a32"/>
<path d="M326.60 189.88L330.80 198.12L322.40 198.12Z" fill="#2a6a32"/>
<path d="M343.80 210.48L348.00 218.72L339.60 218.72Z" fill="#2a6a32"/>
<path d="M101.00 45.42L105.20 37.18L96.80 37.18Z" fill="#2a48a8"/>
<path d="M117.00 70.02L121.20 61.78L112.80 61.78Z" fill="#2a48a8"/>
<path d="M130.30 86.32L134.50 78.08L126.10 78.08Z" fill="#2a48a8"/>
<path d="M140.60 100.62L144.80 92.38L136.40 92.38Z" fill="#2a48a8"/>
<path d="M157.00 122.62L161.20 114.38L152.80 114.38Z" fill="#2a48a8"/>
<path d="M170.10 133.92L174.30 125.68L165.90 125.68Z" fill="#2a48a8"/>
<path d="M178.60 142.32L182.80 134.08L174.40 134.08Z" fill="#2a48a8"/>
<path d="M189.80 151.52L194.00 143.28L185.60 143.28Z" fill="#2a48a8"/>
<path d="M197.20 156.82L201.40 148.58L193.00 148.58Z" fill="#2a48a8"/>
<path d="M209.90 164.62L214.10 156.38L205.70 156.38Z" fill="#2a48a8"/>
<path d="M220.50 168.92L224.70 160.68L216.30 160.68Z" fill="#2a48a8"/>
<path d="M233.50 173.92L237.70 165.68L229.30 165.68Z" fill="#2a48a8"/>
<path d="M250.00 176.42L254.20 168.18L245.80 168.18Z" fill="#2a48a8"/>
<path d="M263.00 178.92L267.20 170.68L258.80 170.68Z" fill="#2a48a8"/>
<path d="M274.70 179.52L278.90 171.28L270.50 171.28Z" fill="#2a48a8"/>
<path d="M290.10 183.72L294.30 175.48L285.90 175.48Z" fill="#2a48a8"/>
<path d="M303.40 185.72L307.60 177.48L299.20 177.48Z" fill="#2a48a8"/>
<path d="M314.00 191.72L318.20 183.48L309.80 183.48Z" fill="#2a48a8"/>
<path d="M326.70 200.22L330.90 191.98L322.50 191.98Z" fill="#2a48a8"/>
<path d="M343.50 213.42L347.70 205.18L339.30 205.18Z" fill="#2a48a8"/>
<circle cx="93.00" cy="25.80" r="4.20" fill="#ec2b2e"/>
<circle cx="117.00" cy="60.80" r="4.20" fill="#ec2b2e"/>
<circle cx="132.70" cy="84.10" r="4.20" fill="#ec2b2e"/>
<circle cx="145.80" cy="102.10" r="4.20" fill="#ec2b2e"/>
<circle cx="156.80" cy="115.10" r="4.20" fill="#ec2b2e"/>
<circle cx="173.30" cy="134.90" r="4.20" fill="#ec2b2e"/>
<circle cx="186.30" cy="148.00" r="4.20" fill="#ec2b2e"/>
<circle cx="196.60" cy="157.80" r="4.20" fill="#ec2b2e"/>
<circle cx="205.70" cy="164.30" r="4.20" fill="#ec2b2e"/>
<circle cx="212.80" cy="168.80" r="4.20" fill="#ec2b2e"/>
<circle cx="226.50" cy="174.50" r="4.20" fill="#ec2b2e"/>
<circle cx="237.00" cy="179.20" r="4.20" fill="#ec2b2e"/>
<circle cx="249.50" cy="181.20" r="4.20" fill="#ec2b2e"/>
<circle cx="266.00" cy="183.70" r="4.20" fill="#ec2b2e"/>
<circle cx="279.00" cy="185.20" r="4.20" fill="#ec2b2e"/>
<circle cx="289.50" cy="185.60" r="4.20" fill="#ec2b2e"/>
<circle cx="305.80" cy="188.60" r="4.20" fill="#ec2b2e"/>
<circle cx="319.30" cy="194.00" r="4.20" fill="#ec2b2e"/>
<circle cx="329.40" cy="198.80" r="4.20" fill="#ec2b2e"/>
<circle cx="342.80" cy="207.80" r="4.20" fill="#ec2b2e"/>
<circle cx="359.10" cy="219.70" r="4.20" fill="#ec2b2e"/>
<rect x="67.15" y="51.95" width="7.30" height="7.30" fill="#fff" stroke="#f5893a" stroke-width="1.1"/>
<rect x="86.95" y="76.55" width="7.30" height="7.30" fill="#fff" stroke="#f5893a" stroke-width="1.1"/>
<rect x="107.35" y="99.55" width="7.30" height="7.30" fill="#fff" stroke="#f5893a" stroke-width="1.1"/>
<rect x="134.45" y="122.35" width="7.30" height="7.30" fill="#fff" stroke="#f5893a" stroke-width="1.1"/>
<rect x="160.15" y="135.35" width="7.30" height="7.30" fill="#fff" stroke="#f5893a" stroke-width="1.1"/>
<rect x="180.15" y="137.65" width="7.30" height="7.30" fill="#fff" stroke="#f5893a" stroke-width="1.1"/>
<rect x="200.35" y="139.35" width="7.30" height="7.30" fill="#fff" stroke="#f5893a" stroke-width="1.1"/>
<rect x="219.95" y="138.95" width="7.30" height="7.30" fill="#fff" stroke="#f5893a" stroke-width="1.1"/>
<rect x="240.05" y="140.55" width="7.30" height="7.30" fill="#fff" stroke="#f5893a" stroke-width="1.1"/>
<rect x="267.35" y="153.85" width="7.30" height="7.30" fill="#fff" stroke="#f5893a" stroke-width="1.1"/>
<rect x="292.85" y="173.35" width="7.30" height="7.30" fill="#fff" stroke="#f5893a" stroke-width="1.1"/>
<circle cx="90.60" cy="12.20" r="3.65" fill="#fff" stroke="#ec2b2e" stroke-width="1.1"/>
<circle cx="111.20" cy="42.40" r="3.65" fill="#fff" stroke="#ec2b2e" stroke-width="1.1"/>
<circle cx="138.20" cy="80.00" r="3.65" fill="#fff" stroke="#ec2b2e" stroke-width="1.1"/>
<circle cx="151.20" cy="97.00" r="3.65" fill="#fff" stroke="#ec2b2e" stroke-width="1.1"/>
<circle cx="163.90" cy="111.90" r="3.65" fill="#fff" stroke="#ec2b2e" stroke-width="1.1"/>
<circle cx="183.30" cy="132.60" r="3.65" fill="#fff" stroke="#ec2b2e" stroke-width="1.1"/>
<circle cx="203.30" cy="148.10" r="3.65" fill="#fff" stroke="#ec2b2e" stroke-width="1.1"/>
<circle cx="223.60" cy="157.40" r="3.65" fill="#fff" stroke="#ec2b2e" stroke-width="1.1"/>
<circle cx="243.70" cy="163.70" r="3.65" fill="#fff" stroke="#ec2b2e" stroke-width="1.1"/>
<circle cx="271.00" cy="169.50" r="3.65" fill="#fff" stroke="#ec2b2e" stroke-width="1.1"/>
<circle cx="296.60" cy="178.70" r="3.65" fill="#fff" stroke="#ec2b2e" stroke-width="1.1"/>
<circle cx="316.10" cy="191.30" r="3.65" fill="#fff" stroke="#ec2b2e" stroke-width="1.1"/>
<path d="M90.60 30.58L94.20 37.82L87.00 37.82Z" fill="#fff" stroke="#2a6a32" stroke-width="1.1" stroke-linejoin="miter"/>
<path d="M111.20 60.88L114.80 68.12L107.60 68.12Z" fill="#fff" stroke="#2a6a32" stroke-width="1.1" stroke-linejoin="miter"/>
<path d="M138.20 97.38L141.80 104.62L134.60 104.62Z" fill="#fff" stroke="#2a6a32" stroke-width="1.1" stroke-linejoin="miter"/>
<path d="M163.80 128.88L167.40 136.12L160.20 136.12Z" fill="#fff" stroke="#2a6a32" stroke-width="1.1" stroke-linejoin="miter"/>
<path d="M182.50 147.88L186.10 155.12L178.90 155.12Z" fill="#fff" stroke="#2a6a32" stroke-width="1.1" stroke-linejoin="miter"/>
<path d="M204.00 160.58L207.60 167.82L200.40 167.82Z" fill="#fff" stroke="#2a6a32" stroke-width="1.1" stroke-linejoin="miter"/>
<path d="M222.40 167.68L226.00 174.92L218.80 174.92Z" fill="#fff" stroke="#2a6a32" stroke-width="1.1" stroke-linejoin="miter"/>
<path d="M243.60 170.38L247.20 177.62L240.00 177.62Z" fill="#fff" stroke="#2a6a32" stroke-width="1.1" stroke-linejoin="miter"/>
<path d="M272.30 173.58L275.90 180.82L268.70 180.82Z" fill="#fff" stroke="#2a6a32" stroke-width="1.1" stroke-linejoin="miter"/>
<path d="M90.60 21.92L94.20 14.68L87.00 14.68Z" fill="#fff" stroke="#2a48a8" stroke-width="1.1"/>
<path d="M111.20 52.12L114.80 44.88L107.60 44.88Z" fill="#fff" stroke="#2a48a8" stroke-width="1.1"/>
<path d="M138.20 89.92L141.80 82.68L134.60 82.68Z" fill="#fff" stroke="#2a48a8" stroke-width="1.1"/>
<path d="M164.30 122.32L167.90 115.08L160.70 115.08Z" fill="#fff" stroke="#2a48a8" stroke-width="1.1"/>
<path d="M183.50 142.12L187.10 134.88L179.90 134.88Z" fill="#fff" stroke="#2a48a8" stroke-width="1.1"/>
<path d="M204.40 158.12L208.00 150.88L200.80 150.88Z" fill="#fff" stroke="#2a48a8" stroke-width="1.1"/>
<path d="M222.40 166.42L226.00 159.18L218.80 159.18Z" fill="#fff" stroke="#2a48a8" stroke-width="1.1"/>
<path d="M243.70 171.62L247.30 164.38L240.10 164.38Z" fill="#fff" stroke="#2a48a8" stroke-width="1.1"/>
<path d="M271.00 175.32L274.60 168.08L267.40 168.08Z" fill="#fff" stroke="#2a48a8" stroke-width="1.1"/>
<text x="1.9" y="11.0" font-size="18" font-family="Liberation Sans, sans-serif">(b)</text>
<text x="41.9" y="15.9" font-size="16" font-family="Liberation Sans, sans-serif">10<tspan font-size="11" dy="-7.6" dx="-1.2">1</tspan></text>
<text x="42.0" y="116.6" font-size="16" font-family="Liberation Sans, sans-serif">10<tspan font-size="11" dy="-7.6">0</tspan></text>
<text x="38.95" y="218.5" font-size="16" font-family="Liberation Sans, sans-serif">10<tspan font-size="11" dy="-7.6">-</tspan><tspan font-size="11" dx="-1.3">1</tspan></text>
<text x="38.95" y="319.9" font-size="16" font-family="Liberation Sans, sans-serif">10<tspan font-size="11" dy="-7.6">-2</tspan></text>
<text x="57.85" y="336" font-size="16" font-family="Liberation Sans, sans-serif">10<tspan font-size="11" dy="-7.6">-</tspan><tspan font-size="11" dx="-1.3">1</tspan></text>
<text x="153.6" y="336" font-size="16" font-family="Liberation Sans, sans-serif">0.5</text>
<text x="192" y="336" font-size="16" font-family="Liberation Sans, sans-serif">10<tspan font-size="11" dy="-7.6">0</tspan></text>
<text x="311.3" y="336" font-size="16" font-family="Liberation Sans, sans-serif">7</text>
<text x="326.25" y="336" font-size="16" font-family="Liberation Sans, sans-serif">10<tspan font-size="11" dy="-7.6" dx="-1.2">1</tspan></text>
<g font-size="15.5" font-family="Liberation Sans, sans-serif"><text x="170.3" y="356.2" font-style="italic">H</text><text x="182.2" y="363.6" font-size="11">ext</text><text x="200" y="356.2">/</text><text x="209.3" y="356.2">(</text><text x="214.8" y="356.2" font-style="italic">I</text><text x="219.0" y="363.6" font-size="11">c1</text><text x="231" y="356.2">/</text><text x="233.8" y="356.2" font-style="italic">π</text><text x="243.3" y="356.2" font-style="italic">w</text><text x="256.1" y="356.2">)</text></g>
<g transform="translate(17.0 0) rotate(-90)" font-family="Liberation Sans, sans-serif"><text x="-237.6" y="0" font-size="15">Q</text><text x="-226.4" y="8.6" font-size="11">total</text><text x="-200.7" y="0" font-size="16">/</text><text x="-191.9" y="0" font-size="16">{</text><text x="-186.2" y="0" font-size="16">(</text><text x="-180.5" y="0" font-size="16.5" font-style="italic">μ</text><text x="-171.7" y="8.4" font-size="10">0</text><text x="-165.6" y="0" font-size="16" font-style="italic">H</text><text x="-154.1" y="8.8" font-size="11">ext</text><text x="-140.2" y="0" font-size="16">)</text><text x="-135.0" y="-7.9" font-size="10.5">2</text><text x="-128.8" y="0" font-size="13" font-style="italic">π</text><text x="-120.2" y="0" font-size="16" font-style="italic">w</text><text x="-108.0" y="-7.9" font-size="10.5">2</text><text x="-100.7" y="0" font-size="16" font-style="italic">/</text><text x="-94.8" y="0" font-size="15" font-style="italic">μ</text><text x="-88.1" y="8.4" font-size="10">0</text><text x="-82.0" y="0" font-size="16">}</text></g>
<rect x="229.00" y="18.00" width="8.40" height="8.40" fill="#f5893a"/>
<text x="271.3" y="26.3" font-size="14.5" fill="#f58a3a" style="stroke:#f58a3a" font-family="Liberation Sans, sans-serif">Exp. single CC</text>
<path d="M233.20 31.78L237.40 40.02L229.00 40.02Z" fill="#2a6a32"/>
<text x="271.3" y="40.6" font-size="14.5" fill="#2e6635" style="stroke:#2e6635" font-family="Liberation Sans, sans-serif">Exp. 3<tspan font-size="11" dx="-0.3">×</tspan><tspan dx="-0.4">1 stack</tspan></text>
<path d="M233.20 55.42L237.40 47.18L229.00 47.18Z" fill="#2a48a8"/>
<text x="271.3" y="56.9" font-size="14.5" fill="#2b47a6" style="stroke:#2b47a6" font-family="Liberation Sans, sans-serif">Exp. 3<tspan font-size="11" dx="-0.3">×</tspan><tspan dx="-0.4">2 stack</tspan></text>
<circle cx="233.20" cy="68.90" r="4.20" fill="#ec2b2e"/>
<text x="271.3" y="72.7" font-size="14.5" fill="#e8292d" style="stroke:#e8292d" font-family="Liberation Sans, sans-serif">Exp. Roebel</text>
<rect x="229.55" y="81.35" width="7.30" height="7.30" fill="#fff" stroke="#f5893a" stroke-width="1.1"/>
<text x="271.3" y="89.4" font-size="14.5" fill="#f58a3a" style="stroke:#f58a3a" font-family="Liberation Sans, sans-serif">Calc. single CC</text>
<path d="M233.20 94.68L236.80 101.92L229.60 101.92Z" fill="#fff" stroke="#2a6a32" stroke-width="1.1" stroke-linejoin="miter"/>
<text x="271.3" y="103.9" font-size="14.5" fill="#2e6635" style="stroke:#2e6635" font-family="Liberation Sans, sans-serif">Calc. 3<tspan font-size="11" dx="-0.3">×</tspan><tspan dx="-0.4">1 stack</tspan></text>
<path d="M233.20 118.12L236.80 110.88L229.60 110.88Z" fill="#fff" stroke="#2a48a8" stroke-width="1.1"/>
<text x="271.3" y="120.3" font-size="14.5" fill="#2b47a6" style="stroke:#2b47a6" font-family="Liberation Sans, sans-serif">Calc. 3<tspan font-size="11" dx="-0.3">×</tspan><tspan dx="-0.4">2 stack</tspan></text>
<circle cx="233.20" cy="131.60" r="3.65" fill="#fff" stroke="#ec2b2e" stroke-width="1.1"/>
<text x="271.3" y="135.9" font-size="14.5" fill="#e8292d" style="stroke:#e8292d" font-family="Liberation Sans, sans-serif">Calc. Roebel</text>
<g transform="translate(3.3 0)" font-size="16" font-family="Liberation Sans, sans-serif"><text x="123.76" y="37.8" font-style="italic" style="stroke-width:0.45px">I</text><text x="127.8" y="45.7" font-size="11" font-weight="bold" style="stroke:none">t</text><text x="131.1" y="37.8" style="stroke-width:0.45px">/</text><text x="135.66" y="37.8" font-style="italic" style="stroke-width:0.45px">I</text><text x="140.57" y="45.7" font-size="11" font-weight="bold" style="stroke:none">c</text><text x="149.7" y="37.8">= 0.6</text></g><rect x="223" y="275.9" width="141" height="20.6" fill="#fff"/><text x="224.3" y="290.8" font-size="16.2" font-family="Liberation Sans, sans-serif">Shoulder = 0.1 mm</text>
<rect x="185.8" y="238" width="1.3" height="27" fill="#000"/>
<path d="M186.05 228.9 L189.6 240.8 L182.5 240.8 Z" fill="#000"/>
<text x="172.3" y="287.6" font-size="16.4" font-style="italic" font-family="Liberation Sans, sans-serif">Q</text>
<text x="184.6" y="296.2" font-size="11" font-family="Liberation Sans, sans-serif">m,BI</text></g>
</svg>
</body></html>
